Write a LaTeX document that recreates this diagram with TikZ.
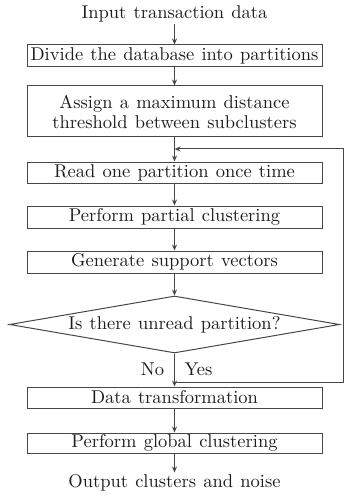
\documentclass[tikz,border=0pt]{standalone}
\usetikzlibrary{shapes.geometric,arrows.meta}
\definecolor{ink}{HTML}{474747}
\definecolor{txt}{HTML}{1C1C1C}
% Latin Modern 10pt design, scaled up, with slightly wider word spaces
\font\flowrm="[lmroman10-regular]:mapping=tex-text" at 18.5pt
\newcommand\flowfont{\flowrm\baselineskip=20pt\spaceskip=7.2pt plus 2pt minus 1pt\relax}
\begin{document}
\begin{tikzpicture}[x=1pt,y=-1pt,
  every node/.style={font=\flowfont, text=txt},
  stepbox/.style={draw=ink, line width=1pt, minimum width=295pt, inner sep=0pt, align=center},
  decision/.style={draw=ink, line width=1pt, diamond, aspect=5.8,
    minimum width=330pt, minimum height=57pt, inner sep=0pt},
  plain/.style={inner sep=2pt},
  flow/.style={draw=ink, line width=1pt, -{Stealth[length=6pt,width=5pt]}},
]
\path[use as bounding box] (0,0) rectangle (347,497);

% process steps
\node[plain] (in) at (174.5,14) {Input transaction data};
\node[stepbox, minimum height=22pt] (b1) at (174.5,56) {Divide the database into partitions};
\node[stepbox, minimum height=51pt] (b2) at (174.5,111.5) {Assign a maximum distance\\threshold between subclusters};
\node[stepbox, minimum height=21pt] (b3) at (174.5,172.5) {Read one partition once time};
\node[stepbox, minimum height=22pt] (b4) at (174.5,217) {Perform partial clustering};
\node[stepbox, minimum height=22pt] (b5) at (174.5,262) {Generate support vectors};
\node[decision] (d) at (174.5,324.5) {Is there unread partition?};
\node[stepbox, minimum height=21pt] (b6) at (174.5,397.5) {Data transformation};
\node[stepbox, minimum height=20pt] (b7) at (174.5,443) {Perform global clustering};
\node[plain] (out) at (174.5,483) {Output clusters and noise};

% branch labels
\node[plain] (no) at (152.5,369) {No};
\node[plain] (yes) at (198.5,369) {Yes};

% main flow
\draw[flow] (in) -- (b1);
\draw[flow] (b1) -- (b2);
\draw[flow] (b2) -- (b3);
\draw[flow] (b3) -- (b4);
\draw[flow] (b4) -- (b5);
\draw[flow] (b5) -- (d);
\draw[flow] (d) -- (b6);
\draw[flow] (b6) -- (b7);
\draw[flow] (b7) -- (out);

% loop back to reading the next partition
\coordinate (j1) at (174.5,382);
\coordinate (r1) at (343,382);
\coordinate (r2) at (343,149);
\coordinate (j2) at (174.5,149);
\draw[flow] (j1) -- (r1) -- (r2) -- (j2);
\end{tikzpicture}
\end{document}
